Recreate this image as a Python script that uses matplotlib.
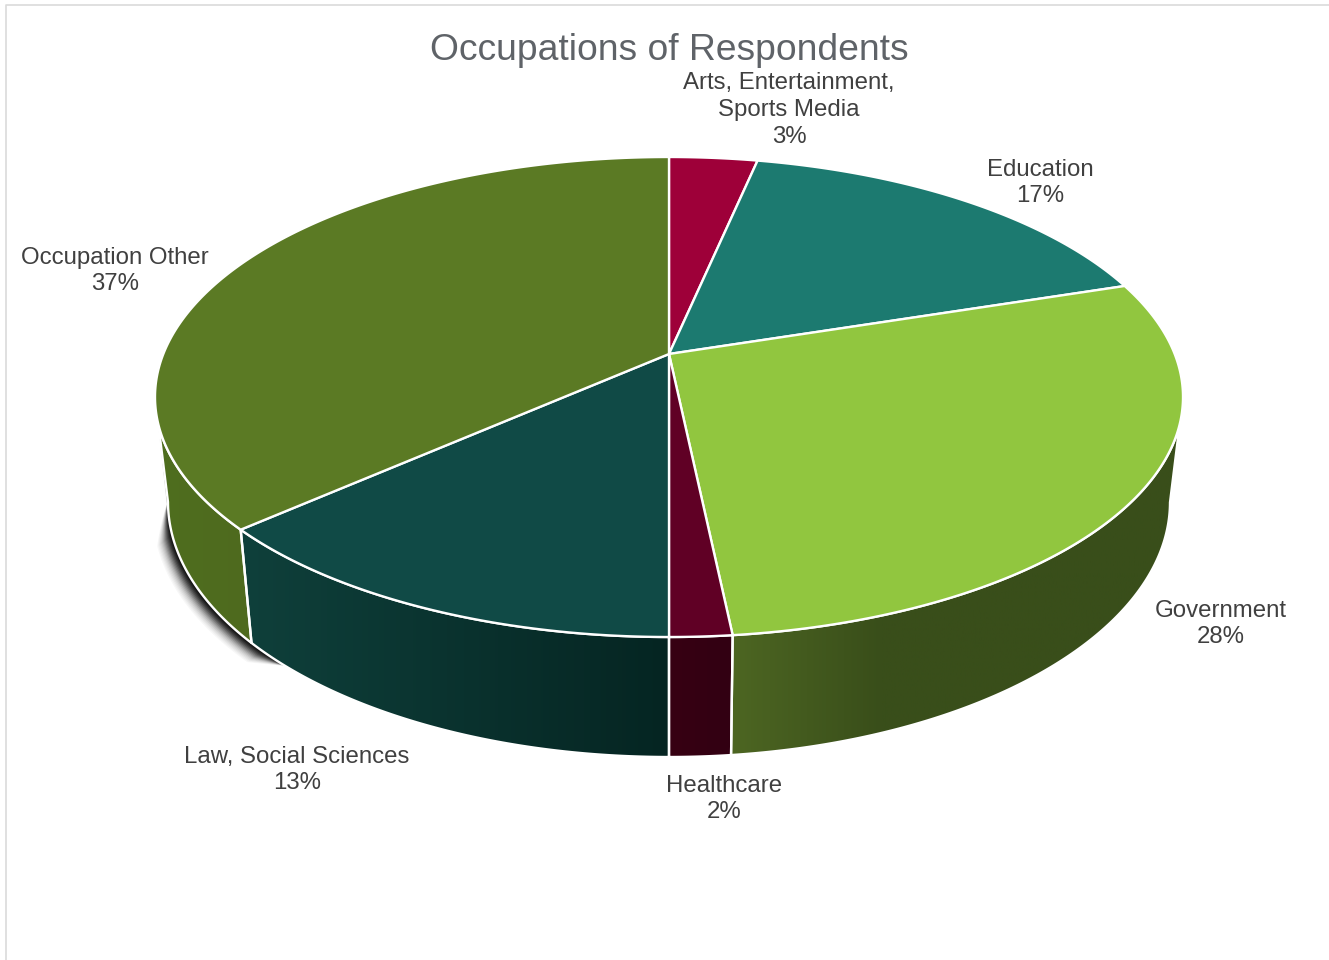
import numpy as np
import matplotlib.pyplot as plt
from matplotlib.patches import Polygon
from matplotlib.colors import LinearSegmentedColormap

plt.rcParams['font.family'] = ['Liberation Sans', 'DejaVu Sans']

# Data, clockwise from 12 o'clock
names = ["Arts, Entertainment,\nSports Media", "Education", "Government",
         "Healthcare", "Law, Social Sciences", "Occupation Other"]
values = [3.3, 16.7, 28.35, 1.65, 13.4, 36.6]

# Colours: top face, then wall gradient (left, right)
top_colors = ["#9E0039", "#1C7A70", "#91C63F", "#600025", "#104A46", "#5B7A24"]
wall_left = ["#5A0020", "#104A40", "#4D6622", "#370013", "#0F403B", "#4F6E1E"]
wall_right = ["#5A0020", "#104A40", "#394E1A", "#320012", "#052522", "#4E6A1F"]

label_pos = [(789, 110), (1040, 183), (1221, 624), (724, 799), (297, 770), (115, 271)]

# Pie geometry in pixels
cx = 669
top_y, top_a, top_b = 397, 514, 240
bot_y, bot_a, bot_b = 502, 501, 255
apex_shift = (397 - 354) / 240  # perspective moves the pie centre up


def project(t):
    # perspective map of the unit circle, keeps the circle but moves its centre
    u, v = np.sin(t), np.cos(t)
    d = apex_shift
    den = 1 + d * v
    return u * np.sqrt(1 - d ** 2) / den, (v + d) / den


def top_xy(u, v):
    return cx + top_a * u, top_y - top_b * v


def bot_xy(u, v):
    return cx + bot_a * u, bot_y - bot_b * v


fig = plt.figure(figsize=(13.29, 9.6), dpi=100)
ax = fig.add_axes([0, 0, 1, 1])
ax.axis("off")

# chart border, only left and top are inside the crop
ax.plot([6, 6, 1329], [960, 5, 5], color="#DADADA", lw=1.2, zorder=1)

edges = np.cumsum([0] + values) / sum(values) * 2 * np.pi
apex = (cx, top_y - top_b * apex_shift)

# soft shadow on the left of the Occupation Other wall
u, v = project(np.linspace(edges[5] - 0.1, edges[6], 400))
keep = v <= 0
sx, sy = bot_xy(u[keep], v[keep])
ex, ey = top_xy(u[keep][-1], 0.0)
sx, sy = np.r_[sx, (sx[-1] + ex) / 2, ex], np.r_[sy, (sy[-1] + ey) / 2, ey]
n = len(sx)
taper = np.clip(np.arange(n) / (0.1 * n), 0, 1) * np.clip((n - 1 - np.arange(n)) / (0.2 * n), 0, 1)
layers = 15
for s in range(layers, 0, -1):
    off = s * taper
    px = np.r_[sx - off, sx[::-1] + 30]
    py = np.r_[sy + off * 0.75, sy[::-1] - 30]
    ax.add_patch(Polygon(np.column_stack([px, py]), fc="black", ec="none",
                         alpha=0.03 + 0.45 * (1 - s / layers) ** 2, zorder=2))

# walls
for i in range(len(values)):
    t = np.linspace(edges[i], edges[i + 1], 500)
    u, v = project(t)
    keep = v <= 0
    if not keep.any():
        continue
    tx, ty = top_xy(u[keep], v[keep])
    bx, by = bot_xy(u[keep], v[keep])
    pts = np.column_stack([np.r_[tx, bx[::-1]], np.r_[ty, by[::-1]]])
    wall = Polygon(pts, closed=True, fc="none", ec="white", lw=1.7, zorder=4)
    ax.add_patch(wall)
    cmap = LinearSegmentedColormap.from_list("w", [wall_left[i], wall_right[i]])
    x0, x1 = pts[:, 0].min(), pts[:, 0].max()
    # government fades only over its first part
    grad = np.linspace(0, 1, 256)
    if names[i] == "Government":
        grad = np.clip(grad * 3, 0, 1)
    im = ax.imshow(grad[None, :], extent=[x0, x1, pts[:, 1].max(), pts[:, 1].min()],
                   cmap=cmap, vmin=0, vmax=1, aspect="auto", zorder=3)
    im.set_clip_path(wall)

# top faces
for i in range(len(values)):
    t = np.linspace(edges[i], edges[i + 1], 300)
    x, y = top_xy(*project(t))
    pts = np.column_stack([np.r_[apex[0], x], np.r_[apex[1], y]])
    ax.add_patch(Polygon(pts, closed=True, fc=top_colors[i], ec="white", lw=1.7,
                         joinstyle="round", zorder=5))

ax.set_xlim(0, 1329)
ax.set_ylim(960, 0)

ax.text(669, 50, "Occupations of Respondents", ha="center", va="center",
        fontsize=26.8, color="#5F6368", zorder=6)
for name, val, (lx, ly) in zip(names, values, label_pos):
    ax.text(lx, ly, f"{name}\n{round(val)}%", ha="center", va="center",
            fontsize=17.3, color="#404040", linespacing=1.27, zorder=6)

fig.savefig("out.png", dpi=100, facecolor="white")
